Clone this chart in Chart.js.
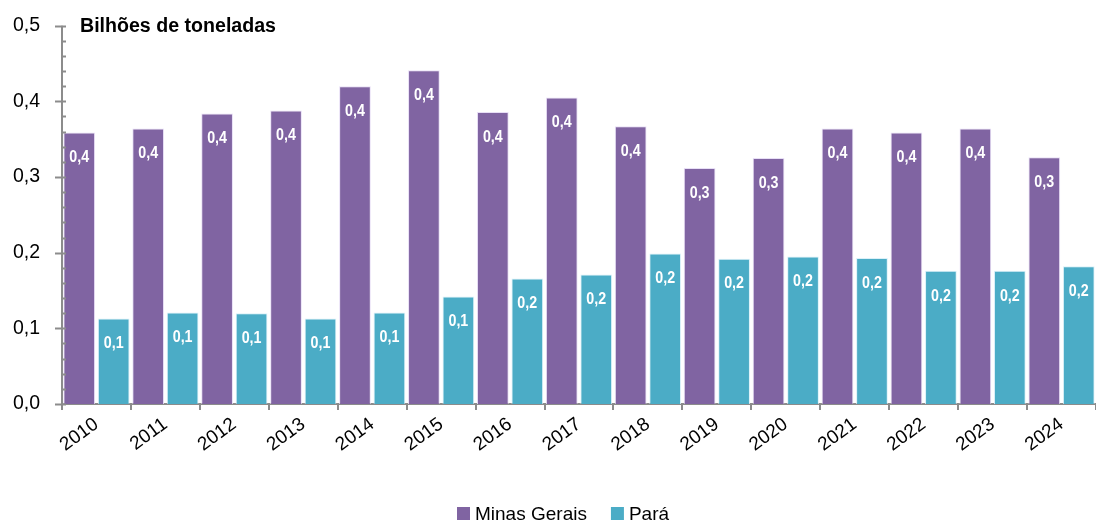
<!DOCTYPE html>
<html><head><meta charset="utf-8">
<script src="https://cdn.jsdelivr.net/npm/chart.js@4/dist/chart.umd.min.js"></script>
<style>html,body{margin:0;padding:0;background:#fff}canvas{display:block}</style>
</head><body><canvas id="c" width="1096" height="523"></canvas>
<script>
const categories = ['2010','2011','2012','2013','2014','2015','2016','2017','2018','2019','2020','2021','2022','2023','2024'];
const minasGerais = [0.359,0.364,0.384,0.388,0.420,0.441,0.386,0.405,0.367,0.312,0.325,0.364,0.359,0.364,0.326];
const para = [0.113,0.121,0.120,0.113,0.121,0.142,0.166,0.171,0.199,0.192,0.195,0.193,0.176,0.176,0.182];
const yTicks = [0,0.1,0.2,0.3,0.4,0.5];
const unitTitle = 'Bilhões de toneladas';
const seriesNames = ['Minas Gerais','Pará'];

const fmt = v => v.toFixed(1).replace('.', ',');
const sans = '"Liberation Sans", Arial, sans-serif';

const decor = {
  id: 'decor',
  afterDatasetsDraw(chart) {
    const ctx = chart.ctx;
    chart.data.datasets.forEach((ds, di) => {
      chart.getDatasetMeta(di).data.forEach((bar, i) => {
        ctx.save();
        ctx.translate(bar.x, bar.y + 25);
        ctx.scale(0.84, 1);
        ctx.font = 'bold 17px ' + sans;
        ctx.fillStyle = '#fff';
        ctx.textAlign = 'center';
        ctx.textBaseline = 'middle';
        ctx.fillText(fmt(ds.data[i]), 0, 0);
        ctx.restore();
      });
    });
  },
  afterDraw(chart) {
    const ctx = chart.ctx;
    const y = chart.scales.y;
    const x0 = chart.chartArea.left;
    ctx.save();
    ctx.strokeStyle = '#8c8c8c';
    ctx.lineWidth = 2;
    ctx.beginPath();
    ctx.moveTo(x0, y.getPixelForValue(0.5));
    ctx.lineTo(x0, y.getPixelForValue(0));
    ctx.stroke();
    for (let k = 0; k <= 25; k++) {
      const v = k * 0.02;
      const py = Math.round(y.getPixelForValue(v)) + 0.5;
      ctx.beginPath();
      if (k % 5 === 0) { ctx.moveTo(x0 - 7, py); ctx.lineTo(x0 + 4, py); }
      else { ctx.moveTo(x0, py); ctx.lineTo(x0 + 4, py); }
      ctx.stroke();
    }
    // title
    ctx.font = 'bold 19.6px ' + sans;
    ctx.fillStyle = '#000';
    ctx.textAlign = 'left';
    ctx.textBaseline = 'middle';
    ctx.fillText(unitTitle, x0 + 18, y.getPixelForValue(0.5) + 1);
    // legend
    ctx.font = '19px ' + sans;
    let lx = 457;
    const ly = 513.5;
    chart.data.datasets.forEach(ds => {
      ctx.fillStyle = ds.backgroundColor;
      ctx.fillRect(lx, ly - 6.5, 13, 13);
      ctx.fillStyle = '#000';
      ctx.fillText(ds.label, lx + 18, ly + 1);
      lx += 18 + ctx.measureText(ds.label).width + 24;
    });
    ctx.restore();
  }
};

new Chart(document.getElementById('c'), {
  type: 'bar',
  data: {
    labels: categories,
    datasets: [
      { label: seriesNames[0], data: minasGerais, backgroundColor: '#8064A2', borderColor: 'rgba(230,220,245,0.9)', borderWidth: 1, barPercentage: 0.92, categoryPercentage: 1.0 },
      { label: seriesNames[1], data: para, backgroundColor: '#4BACC6', borderColor: 'rgba(215,240,248,0.9)', borderWidth: 1, barPercentage: 0.92, categoryPercentage: 1.0 }
    ]
  },
  options: {
    responsive: false,
    animation: false,
    devicePixelRatio: 1,
    layout: { padding: { top: 24, right: 0, left: 0, bottom: 0 } },
    plugins: {
      legend: { display: false },
      tooltip: { enabled: false }
    },
    scales: {
      x: {
        offset: true,
        grid: { offset: true, drawOnChartArea: false, drawTicks: true, tickLength: 6, color: '#8c8c8c', lineWidth: 2 },
        border: { color: '#8c8c8c', width: 2 },
        ticks: { color: '#000', font: { size: 19, family: sans }, maxRotation: 36, minRotation: 36, padding: 3 },
        afterFit(s) { s.height = 119; }
      },
      y: {
        min: 0, max: 0.5,
        afterBuildTicks(s) { s.ticks = yTicks.map(v => ({ value: v })); },
        grid: { display: false },
        border: { display: false },
        ticks: { color: '#000', font: { size: 19.5, family: sans }, callback: v => fmt(v), padding: 14 },
        afterFit(s) { s.width = 62; }
      }
    }
  },
  plugins: [decor]
});
</script></body></html>
